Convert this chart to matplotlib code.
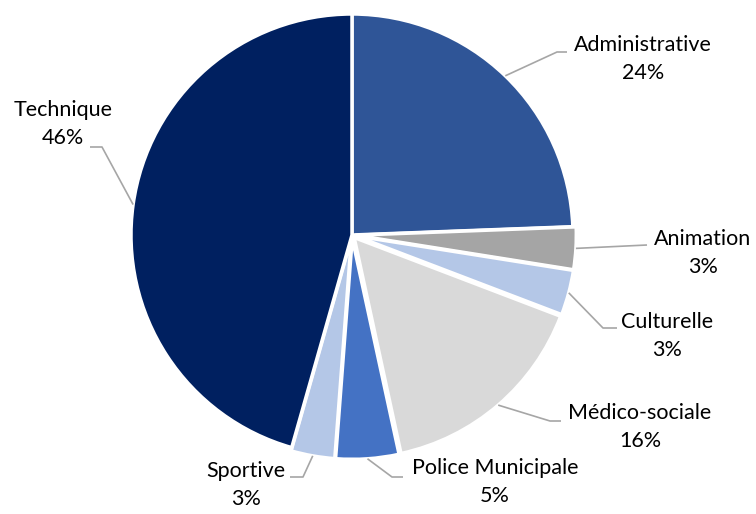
import matplotlib
matplotlib.use("Agg")
import matplotlib.pyplot as plt
import numpy as np

categories = ["Administrative", "Animation", "Culturelle", "Médico-sociale",
              "Police Municipale", "Sportive", "Technique"]
values = [24.4, 3.1, 3.3, 15.8, 4.6, 3.2, 45.6]
colors = ["#2F5597", "#A5A5A5", "#B4C7E7", "#D9D9D9", "#4472C4", "#B4C7E7", "#002060"]
explode = [0, 0.015, 0.015, 0.015, 0.015, 0.015, 0]

W, H = 756, 514
CX, CY, R = 352, 235, 221

fig = plt.figure(figsize=(W / 100, H / 100), dpi=100)
ax = fig.add_axes([(CX - R) / W, (H - CY - R) / H, 2 * R / W, 2 * R / H])
wedges, _ = ax.pie(values, colors=colors, startangle=90, counterclock=False,
                   explode=explode, radius=1,
                   wedgeprops=dict(edgecolor="white", linewidth=2.5))
for w in wedges:
    w.set_clip_on(False)
ax.set_xlim(-1, 1)
ax.set_ylim(-1, 1)
ax.axis("off")


def p2d(px, py):
    return (px - CX) / R, (CY - py) / R


# label layout: text center (px), elbow point (px), horizontal end (px)
layout = {
    "Administrative": ((643, 59), (557, 52), (567, 52)),
    "Animation": ((703, 253), (647, 245), (647, 245)),
    "Culturelle": ((667, 336), (603, 328), (617, 328)),
    "Médico-sociale": ((640, 427), (550, 421), (561, 421)),
    "Police Municipale": ((495, 482), (392, 477), (403, 477)),
    "Sportive": ((246, 485), (303, 477), (290, 477)),
    "Technique": ((63, 124), (102, 147), (90, 147)),
}

for w, cat, val, ex in zip(wedges, categories, values, explode):
    ang = np.deg2rad((w.theta1 + w.theta2) / 2)
    sx = (1 + ex) * np.cos(ang)
    sy = (1 + ex) * np.sin(ang)
    (tx, ty), (ex_, ey_), (hx, hy) = layout[cat]
    e = p2d(ex_, ey_)
    h = p2d(hx, hy)
    ax.plot([sx, e[0], h[0]], [sy, e[1], h[1]], color="#A6A6A6", lw=1.2,
            clip_on=False, solid_capstyle="butt")
    t = p2d(tx, ty)
    ax.text(t[0], t[1], f"{cat}\n{round(val):.0f}%", ha="center", va="center",
            fontsize=15.5, family=["Lato", "DejaVu Sans"], color="#000000",
            linespacing=1.55, clip_on=False)

fig.savefig("out.png", dpi=100, facecolor="white")
